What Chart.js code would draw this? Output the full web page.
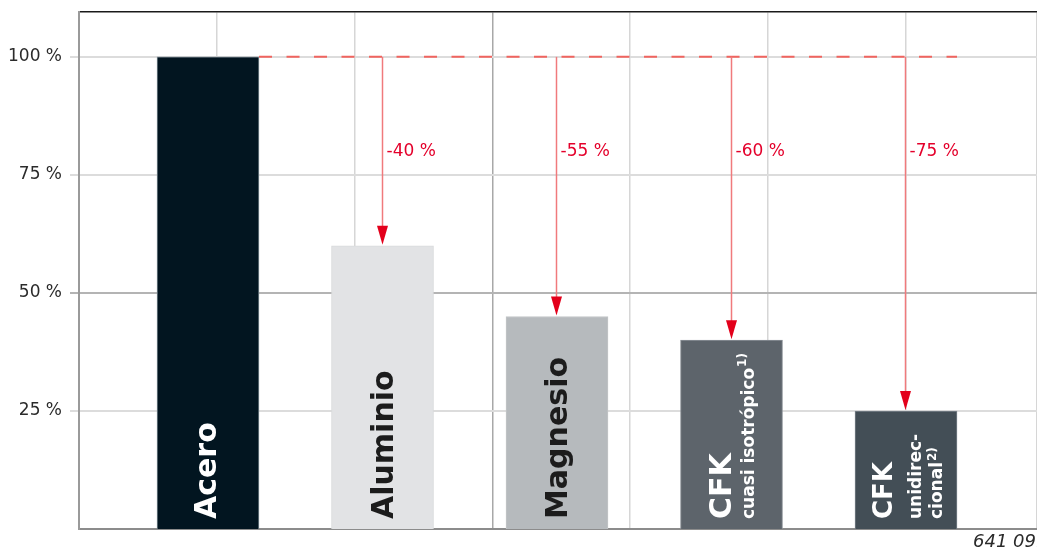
<!DOCTYPE html>
<html>
<head>
<meta charset="utf-8">
<script src="https://cdn.jsdelivr.net/npm/chart.js@4/dist/chart.umd.min.js"></script>
<style>
  html, body { margin: 0; padding: 0; background: #fff; }
  #wrap { width: 1037px; height: 548px; }
</style>
</head>
<body>
<div id="wrap"><canvas id="grafico"></canvas></div>
<script>
// Datos
const materiales = ['Acero', 'Aluminio', 'Magnesio', 'CFK', 'CFK'];
const subtextos = [[], [], [], ['cuasi isotrópico'], ['unidirec-', 'cional']];
const notas = ['', '', '', '1)', '2)'];
const pesoRelativo = [100, 60, 45, 40, 25];
const ticksY = [25, 50, 75, 100];
const codigo = '641 091';

// Estilos
const coloresBarra = ['#021520', '#e2e3e5', '#b6babd', '#5d646b', '#434e56'];
const bordesBarra = ['#7f8d94', '#d9dadc', '#c3c6c8', '#8b9197', '#79828a'];
const coloresTexto = ['#ffffff', '#1c1c1c', '#1c1c1c', '#ffffff', '#ffffff'];
// desplazamiento de la línea base respecto al centro de la barra
const layoutEtiquetas = [
    { size: 30, base: 8, sub: [] },
    { size: 30, base: 10, sub: [] },
    { size: 30, base: 10, sub: [] },
    { size: 30, base: -1, sub: [22], supRaise: 8 },
    { size: 26, base: -14, sub: [15, 36], supRaise: 6 }
];

function textoGirado(ctx, texto, x, y, font, color) {
    ctx.save();
    ctx.translate(x, y);
    ctx.rotate(-Math.PI / 2);
    ctx.font = font;
    ctx.fillStyle = color;
    ctx.textAlign = 'left';
    ctx.textBaseline = 'alphabetic';
    ctx.fillText(texto, 0, 0);
    const w = ctx.measureText(texto).width;
    ctx.restore();
    return w;
}

const anotaciones = {
    id: 'anotaciones',
    afterDatasetsDraw(chart) {
        const { ctx, chartArea, scales: { y } } = chart;
        const barras = chart.getDatasetMeta(0).data;
        const yRef = y.getPixelForValue(pesoRelativo[0]);
        const ultima = barras[barras.length - 1];

        // línea discontinua de referencia (100 %)
        ctx.save();
        ctx.strokeStyle = '#f0645f';
        ctx.lineWidth = 2;
        ctx.setLineDash([13, 14.5]);
        ctx.beginPath();
        ctx.moveTo(barras[0].x + barras[0].width / 2, yRef);
        ctx.lineTo(ultima.x + ultima.width / 2, yRef);
        ctx.stroke();
        ctx.restore();

        // flechas y porcentajes de reducción
        const yTexto = y.getPixelForValue(80);
        for (let i = 1; i < barras.length; i++) {
            const b = barras[i];
            const xa = Math.round(b.x) - 0.5;
            const tope = y.getPixelForValue(pesoRelativo[i]);
            ctx.save();
            ctx.strokeStyle = '#f07a7c';
            ctx.lineWidth = 1.5;
            ctx.beginPath();
            ctx.moveTo(xa, yRef);
            ctx.lineTo(xa, tope - 18);
            ctx.stroke();
            ctx.fillStyle = '#e3001b';
            ctx.beginPath();
            ctx.moveTo(xa - 5.5, tope - 20);
            ctx.lineTo(xa + 5.5, tope - 20);
            ctx.lineTo(xa, tope - 1);
            ctx.closePath();
            ctx.fill();

            ctx.font = '17px "DejaVu Sans"';
            ctx.fillStyle = '#e4002b';
            ctx.textAlign = 'left';
            ctx.textBaseline = 'middle';
            ctx.fillText((pesoRelativo[i] - pesoRelativo[0]) + ' %', xa + 4, yTexto);
            ctx.restore();
        }

        // etiquetas giradas dentro de las barras
        const yBase = chartArea.bottom - 10;
        barras.forEach((b, i) => {
            const lay = layoutEtiquetas[i];
            textoGirado(ctx, materiales[i], b.x + lay.base, yBase,
                'bold ' + lay.size + 'px "DejaVu Sans"', coloresTexto[i]);
            const lineas = subtextos[i];
            lineas.forEach((linea, k) => {
                const xl = b.x + lay.sub[k];
                const w = textoGirado(ctx, linea, xl, yBase, 'bold 17px "DejaVu Sans"', coloresTexto[i]);
                if (k === lineas.length - 1 && notas[i]) {
                    textoGirado(ctx, notas[i], xl - lay.supRaise, yBase - w - 1,
                        'bold 12px "DejaVu Sans"', coloresTexto[i]);
                }
            });
        });

        // código de figura
        ctx.save();
        ctx.font = 'italic 18px "DejaVu Sans"';
        ctx.fillStyle = '#2b2b2b';
        ctx.textAlign = 'left';
        ctx.textBaseline = 'alphabetic';
        ctx.fillText(codigo, chartArea.right - 64, chartArea.bottom + 18);
        ctx.restore();
    }
};

function valorTick(c) {
    return c && c.tick ? c.tick.value : null;
}

const ctx = document.getElementById('grafico').getContext('2d');

window.myChart = new Chart(ctx, {
    type: 'bar',
    data: {
        datasets: [{
            data: pesoRelativo.map((v, i) => ({ x: i + 1, y: v })),
            backgroundColor: coloresBarra,
            borderColor: bordesBarra,
            borderWidth: 1,
            barThickness: 102
        }]
    },
    options: {
        responsive: true,
        maintainAspectRatio: false,
        animation: false,
        layout: { padding: { top: 12, bottom: 19, left: 0, right: 0 } },
        plugins: {
            legend: { display: false },
            tooltip: { enabled: false }
        },
        scales: {
            x: {
                type: 'linear',
                position: 'bottom',
                offset: false,
                min: 0.2607,
                max: 5.7507,
                ticks: { display: false },
                grid: { display: false, drawTicks: false, offset: false },
                border: { display: true, color: '#8c8c8c', width: 2 }
            },
            x2: {
                type: 'linear',
                position: 'top',
                offset: false,
                min: 0,
                max: 6.952,
                ticks: { display: false, stepSize: 1 },
                grid: {
                    offset: false,
                    drawTicks: false,
                    lineWidth: 1.5,
                    color: c => {
                        const v = valorTick(c);
                        if (v === 0) return 'rgba(0,0,0,0)';
                        return v === 3 ? '#a8a8a8' : '#d6d6d6';
                    }
                },
                border: { display: true, color: '#1a1a1a', width: 1.5 }
            },
            y: {
                min: 0,
                max: 109.5,
                afterBuildTicks: s => { s.ticks = ticksY.map(v => ({ value: v })); },
                afterFit: s => { s.width = 79; s.paddingTop = 0; s.paddingBottom = 0; },
                ticks: {
                    padding: 8,
                    color: '#2b2b2b',
                    font: { family: 'DejaVu Sans', size: 17 },
                    callback: v => v + ' %'
                },
                grid: {
                    tickLength: 9,
                    lineWidth: 2,
                    color: c => valorTick(c) === 50 ? '#b4b4b4' : '#dcdcdc'
                },
                border: { display: true, color: '#9a9a9a', width: 2 }
            }
        }
    },
    plugins: [anotaciones]
});
</script>
</body>
</html>
